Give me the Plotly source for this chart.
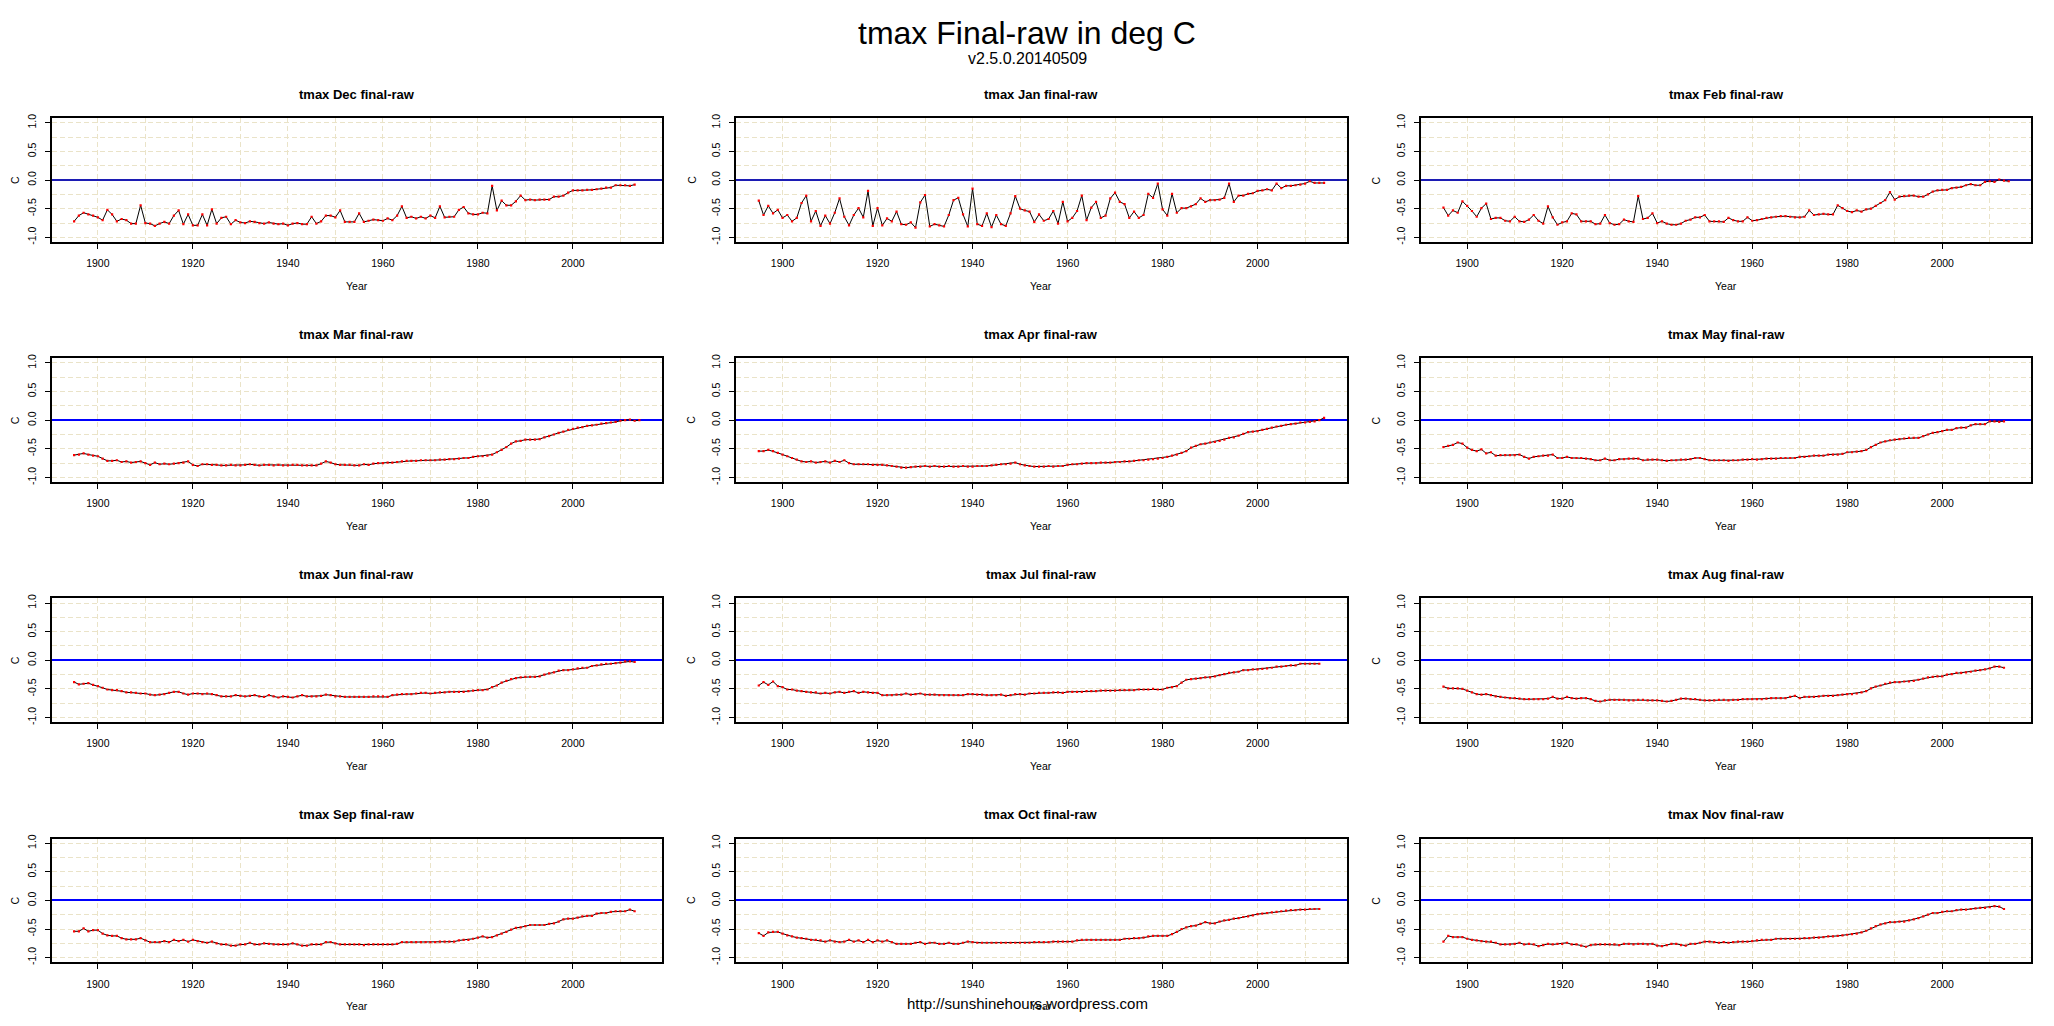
import plotly.graph_objects as go
from plotly.subplots import make_subplots

START_YEAR = 1895

dec = [-0.72, -0.62, -0.57, -0.60, -0.62,
       -0.65, -0.70, -0.52, -0.60, -0.72, -0.68, -0.70, -0.76, -0.76, -0.44,
       -0.75, -0.76, -0.80, -0.76, -0.73, -0.76, -0.62, -0.53, -0.77, -0.60,
       -0.79, -0.79, -0.60, -0.79, -0.51, -0.76, -0.66, -0.64, -0.77, -0.70,
       -0.74, -0.75, -0.72, -0.73, -0.75, -0.76, -0.74, -0.76, -0.77, -0.76,
       -0.79, -0.76, -0.75, -0.77, -0.77, -0.64, -0.76, -0.72, -0.62, -0.62,
       -0.65, -0.53, -0.73, -0.73, -0.73, -0.58, -0.73, -0.71, -0.69, -0.70,
       -0.71, -0.67, -0.70, -0.62, -0.46, -0.66, -0.64, -0.67, -0.64, -0.67,
       -0.62, -0.66, -0.46, -0.65, -0.64, -0.64, -0.52, -0.47, -0.58, -0.60,
       -0.60, -0.57, -0.58, -0.10, -0.53, -0.36, -0.44, -0.44, -0.37, -0.27,
       -0.35, -0.34, -0.35, -0.34, -0.34, -0.34, -0.29, -0.29, -0.27, -0.22,
       -0.18, -0.18, -0.18, -0.17, -0.17, -0.16, -0.15, -0.13, -0.13, -0.09,
       -0.09, -0.09, -0.10, -0.08]

jan = [-0.36, -0.61, -0.45, -0.58, -0.52,
       -0.66, -0.61, -0.72, -0.66, -0.40, -0.27, -0.72, -0.54, -0.80, -0.62,
       -0.76, -0.57, -0.32, -0.64, -0.79, -0.61, -0.49, -0.65, -0.19, -0.80,
       -0.49, -0.79, -0.67, -0.72, -0.55, -0.77, -0.78, -0.74, -0.83, -0.39,
       -0.26, -0.81, -0.77, -0.79, -0.81, -0.61, -0.35, -0.31, -0.60, -0.81,
       -0.15, -0.77, -0.80, -0.58, -0.82, -0.61, -0.77, -0.80, -0.58, -0.28,
       -0.50, -0.53, -0.55, -0.73, -0.60, -0.71, -0.68, -0.54, -0.76, -0.38,
       -0.72, -0.66, -0.54, -0.27, -0.70, -0.48, -0.38, -0.66, -0.62, -0.32,
       -0.22, -0.38, -0.42, -0.66, -0.55, -0.66, -0.61, -0.24, -0.31, -0.06,
       -0.51, -0.62, -0.24, -0.57, -0.49, -0.49, -0.46, -0.42, -0.32, -0.38,
       -0.35, -0.35, -0.34, -0.31, -0.06, -0.38, -0.27, -0.27, -0.24, -0.23,
       -0.19, -0.18, -0.16, -0.18, -0.06, -0.14, -0.10, -0.10, -0.09, -0.08,
       -0.06, -0.02, -0.05, -0.05, -0.05]

feb = [-0.48, -0.62, -0.53, -0.57, -0.37,
       -0.45, -0.54, -0.64, -0.49, -0.41, -0.68, -0.66, -0.66, -0.71, -0.72,
       -0.64, -0.72, -0.73, -0.69, -0.61, -0.71, -0.76, -0.46, -0.65, -0.78,
       -0.74, -0.72, -0.58, -0.60, -0.72, -0.72, -0.72, -0.77, -0.76, -0.61,
       -0.75, -0.78, -0.77, -0.69, -0.72, -0.73, -0.28, -0.68, -0.66, -0.58,
       -0.75, -0.72, -0.76, -0.78, -0.78, -0.76, -0.71, -0.69, -0.65, -0.65,
       -0.61, -0.72, -0.72, -0.72, -0.73, -0.66, -0.70, -0.72, -0.72, -0.65,
       -0.71, -0.70, -0.68, -0.66, -0.65, -0.64, -0.63, -0.63, -0.64, -0.65,
       -0.65, -0.64, -0.53, -0.61, -0.60, -0.59, -0.60, -0.60, -0.44, -0.49,
       -0.54, -0.56, -0.53, -0.55, -0.51, -0.50, -0.45, -0.40, -0.35, -0.21,
       -0.34, -0.29, -0.28, -0.27, -0.27, -0.29, -0.29, -0.25, -0.20, -0.18,
       -0.17, -0.17, -0.14, -0.13, -0.12, -0.09, -0.07, -0.09, -0.09, -0.03,
       -0.02, -0.03, 0.01, -0.01, -0.02]

mar = [-0.61, -0.60, -0.58, -0.60, -0.62,
       -0.63, -0.67, -0.71, -0.71, -0.70, -0.73, -0.72, -0.74, -0.73, -0.72,
       -0.75, -0.78, -0.74, -0.77, -0.76, -0.77, -0.76, -0.75, -0.74, -0.72,
       -0.78, -0.80, -0.77, -0.77, -0.78, -0.78, -0.79, -0.79, -0.78, -0.79,
       -0.79, -0.78, -0.77, -0.78, -0.79, -0.78, -0.78, -0.79, -0.78, -0.79,
       -0.79, -0.78, -0.78, -0.79, -0.79, -0.79, -0.79, -0.76, -0.72, -0.74,
       -0.77, -0.78, -0.78, -0.78, -0.79, -0.79, -0.77, -0.78, -0.76, -0.75,
       -0.75, -0.74, -0.74, -0.73, -0.72, -0.71, -0.71, -0.71, -0.70, -0.70,
       -0.70, -0.70, -0.69, -0.69, -0.68, -0.68, -0.67, -0.66, -0.66, -0.64,
       -0.63, -0.63, -0.62, -0.60, -0.56, -0.52, -0.47, -0.41, -0.37, -0.36,
       -0.34, -0.34, -0.34, -0.33, -0.30, -0.28, -0.25, -0.22, -0.20, -0.17,
       -0.15, -0.13, -0.12, -0.10, -0.09, -0.08, -0.06, -0.05, -0.04, -0.03,
       -0.01, 0.00, 0.01, -0.01, 0.00]

apr = [-0.54, -0.54, -0.52, -0.54, -0.57,
       -0.60, -0.63, -0.66, -0.69, -0.72, -0.73, -0.72, -0.74, -0.73, -0.72,
       -0.74, -0.71, -0.73, -0.70, -0.75, -0.77, -0.77, -0.77, -0.77, -0.78,
       -0.78, -0.78, -0.79, -0.80, -0.81, -0.83, -0.83, -0.82, -0.81, -0.81,
       -0.80, -0.81, -0.80, -0.81, -0.81, -0.80, -0.81, -0.81, -0.80, -0.81,
       -0.81, -0.80, -0.80, -0.80, -0.79, -0.78, -0.77, -0.77, -0.76, -0.74,
       -0.77, -0.79, -0.80, -0.81, -0.81, -0.81, -0.80, -0.81, -0.80, -0.80,
       -0.78, -0.77, -0.77, -0.76, -0.75, -0.75, -0.75, -0.74, -0.74, -0.74,
       -0.73, -0.73, -0.72, -0.72, -0.71, -0.70, -0.70, -0.69, -0.68, -0.67,
       -0.66, -0.64, -0.62, -0.60, -0.57, -0.54, -0.48, -0.45, -0.42, -0.41,
       -0.39, -0.38, -0.36, -0.34, -0.31, -0.30, -0.27, -0.24, -0.21, -0.20,
       -0.19, -0.17, -0.15, -0.13, -0.11, -0.10, -0.08, -0.07, -0.06, -0.04,
       -0.04, -0.03, -0.02, 0.00, 0.04]

may = [-0.47, -0.45, -0.43, -0.39, -0.41,
       -0.48, -0.52, -0.54, -0.51, -0.58, -0.56, -0.62, -0.61, -0.61, -0.61,
       -0.61, -0.60, -0.64, -0.67, -0.64, -0.63, -0.62, -0.62, -0.60, -0.66,
       -0.66, -0.64, -0.66, -0.66, -0.66, -0.67, -0.68, -0.70, -0.70, -0.67,
       -0.70, -0.70, -0.68, -0.68, -0.67, -0.67, -0.67, -0.70, -0.69, -0.69,
       -0.69, -0.70, -0.71, -0.70, -0.70, -0.69, -0.69, -0.68, -0.66, -0.66,
       -0.68, -0.70, -0.70, -0.70, -0.70, -0.71, -0.70, -0.70, -0.69, -0.69,
       -0.68, -0.69, -0.68, -0.67, -0.67, -0.67, -0.66, -0.66, -0.66, -0.66,
       -0.64, -0.64, -0.63, -0.62, -0.62, -0.62, -0.60, -0.60, -0.60, -0.59,
       -0.56, -0.56, -0.55, -0.54, -0.52, -0.47, -0.43, -0.39, -0.37, -0.35,
       -0.34, -0.33, -0.32, -0.31, -0.31, -0.31, -0.28, -0.25, -0.22, -0.21,
       -0.19, -0.17, -0.17, -0.14, -0.13, -0.13, -0.09, -0.07, -0.07, -0.07,
       -0.02, -0.02, -0.03, -0.02]

jun = [-0.38, -0.42, -0.41, -0.40, -0.43,
       -0.45, -0.48, -0.51, -0.52, -0.52, -0.54, -0.56, -0.56, -0.57, -0.58,
       -0.58, -0.60, -0.61, -0.60, -0.59, -0.57, -0.55, -0.55, -0.58, -0.60,
       -0.58, -0.58, -0.59, -0.58, -0.59, -0.61, -0.63, -0.63, -0.63, -0.61,
       -0.62, -0.63, -0.62, -0.61, -0.63, -0.64, -0.61, -0.63, -0.65, -0.63,
       -0.64, -0.65, -0.63, -0.61, -0.63, -0.63, -0.63, -0.62, -0.60, -0.61,
       -0.63, -0.63, -0.64, -0.64, -0.64, -0.64, -0.64, -0.64, -0.63, -0.63,
       -0.63, -0.64, -0.61, -0.60, -0.59, -0.59, -0.59, -0.58, -0.57, -0.57,
       -0.58, -0.57, -0.56, -0.56, -0.55, -0.55, -0.55, -0.55, -0.54, -0.53,
       -0.52, -0.52, -0.51, -0.47, -0.44, -0.39, -0.36, -0.33, -0.31, -0.30,
       -0.29, -0.29, -0.29, -0.28, -0.25, -0.23, -0.21, -0.18, -0.17, -0.17,
       -0.16, -0.14, -0.13, -0.13, -0.10, -0.09, -0.07, -0.06, -0.06, -0.05,
       -0.04, -0.02, -0.02, -0.03]

jul = [-0.44, -0.38, -0.43, -0.37, -0.45,
       -0.47, -0.51, -0.51, -0.53, -0.54, -0.55, -0.56, -0.56, -0.58, -0.57,
       -0.58, -0.56, -0.55, -0.57, -0.55, -0.54, -0.57, -0.55, -0.56, -0.57,
       -0.57, -0.61, -0.61, -0.61, -0.60, -0.60, -0.58, -0.60, -0.59, -0.58,
       -0.60, -0.60, -0.60, -0.61, -0.61, -0.61, -0.61, -0.61, -0.61, -0.59,
       -0.59, -0.60, -0.60, -0.61, -0.61, -0.61, -0.60, -0.62, -0.61, -0.59,
       -0.59, -0.60, -0.58, -0.58, -0.57, -0.57, -0.57, -0.56, -0.56, -0.57,
       -0.55, -0.55, -0.55, -0.55, -0.54, -0.54, -0.54, -0.53, -0.53, -0.53,
       -0.53, -0.52, -0.52, -0.52, -0.52, -0.51, -0.51, -0.51, -0.50, -0.51,
       -0.51, -0.48, -0.47, -0.45, -0.39, -0.34, -0.33, -0.32, -0.31, -0.30,
       -0.30, -0.28, -0.26, -0.24, -0.22, -0.21, -0.20, -0.17, -0.17, -0.16,
       -0.16, -0.15, -0.14, -0.13, -0.11, -0.11, -0.10, -0.09, -0.09, -0.06,
       -0.06, -0.06, -0.06, -0.06]

aug = [-0.46, -0.49, -0.49, -0.49, -0.50,
       -0.53, -0.56, -0.59, -0.60, -0.59, -0.61, -0.63, -0.64, -0.65, -0.66,
       -0.66, -0.67, -0.68, -0.68, -0.68, -0.68, -0.68, -0.67, -0.64, -0.67,
       -0.67, -0.64, -0.66, -0.67, -0.66, -0.66, -0.68, -0.71, -0.72, -0.70,
       -0.69, -0.69, -0.69, -0.69, -0.70, -0.70, -0.69, -0.69, -0.70, -0.70,
       -0.70, -0.71, -0.72, -0.71, -0.69, -0.67, -0.67, -0.68, -0.68, -0.69,
       -0.70, -0.70, -0.70, -0.69, -0.69, -0.70, -0.69, -0.69, -0.68, -0.68,
       -0.68, -0.68, -0.68, -0.67, -0.66, -0.66, -0.66, -0.66, -0.64, -0.62,
       -0.66, -0.64, -0.64, -0.64, -0.63, -0.62, -0.62, -0.62, -0.61, -0.60,
       -0.59, -0.59, -0.58, -0.56, -0.54, -0.49, -0.46, -0.44, -0.41, -0.39,
       -0.38, -0.38, -0.37, -0.37, -0.36, -0.34, -0.32, -0.30, -0.29, -0.28,
       -0.28, -0.25, -0.24, -0.22, -0.22, -0.21, -0.20, -0.18, -0.17, -0.16,
       -0.14, -0.11, -0.11, -0.13]

sep = [-0.54, -0.54, -0.49, -0.54, -0.52,
       -0.52, -0.58, -0.61, -0.62, -0.62, -0.66, -0.68, -0.68, -0.68, -0.66,
       -0.70, -0.73, -0.73, -0.73, -0.71, -0.73, -0.69, -0.71, -0.69, -0.72,
       -0.69, -0.71, -0.73, -0.74, -0.72, -0.75, -0.77, -0.77, -0.79, -0.79,
       -0.77, -0.77, -0.74, -0.77, -0.77, -0.75, -0.76, -0.77, -0.77, -0.77,
       -0.77, -0.75, -0.77, -0.79, -0.79, -0.77, -0.77, -0.77, -0.73, -0.73,
       -0.75, -0.77, -0.77, -0.77, -0.77, -0.77, -0.78, -0.77, -0.77, -0.77,
       -0.77, -0.77, -0.77, -0.76, -0.73, -0.73, -0.73, -0.73, -0.73, -0.73,
       -0.73, -0.73, -0.72, -0.72, -0.72, -0.72, -0.70, -0.69, -0.69, -0.67,
       -0.65, -0.63, -0.65, -0.64, -0.61, -0.58, -0.55, -0.51, -0.48, -0.47,
       -0.45, -0.43, -0.43, -0.43, -0.43, -0.41, -0.40, -0.37, -0.33, -0.32,
       -0.32, -0.30, -0.28, -0.27, -0.27, -0.23, -0.22, -0.22, -0.20, -0.19,
       -0.19, -0.19, -0.16, -0.19]

oct_ = [-0.57, -0.62, -0.56, -0.55, -0.55,
        -0.58, -0.61, -0.63, -0.65, -0.66, -0.67, -0.69, -0.69, -0.70, -0.72,
        -0.70, -0.72, -0.73, -0.72, -0.69, -0.72, -0.70, -0.73, -0.69, -0.73,
        -0.70, -0.72, -0.70, -0.73, -0.76, -0.76, -0.76, -0.76, -0.74, -0.73,
        -0.76, -0.74, -0.74, -0.76, -0.76, -0.74, -0.76, -0.76, -0.74, -0.72,
        -0.73, -0.74, -0.74, -0.74, -0.74, -0.74, -0.74, -0.74, -0.74, -0.74,
        -0.74, -0.74, -0.74, -0.73, -0.73, -0.73, -0.73, -0.72, -0.72, -0.72,
        -0.72, -0.72, -0.70, -0.69, -0.69, -0.69, -0.69, -0.69, -0.69, -0.69,
        -0.69, -0.69, -0.67, -0.67, -0.66, -0.66, -0.65, -0.63, -0.62, -0.62,
        -0.62, -0.62, -0.59, -0.55, -0.50, -0.47, -0.45, -0.44, -0.41, -0.38,
        -0.40, -0.40, -0.37, -0.35, -0.34, -0.32, -0.31, -0.29, -0.28, -0.26,
        -0.24, -0.23, -0.22, -0.21, -0.20, -0.19, -0.18, -0.17, -0.17, -0.16,
        -0.16, -0.15, -0.15, -0.15]

nov = [-0.72, -0.62, -0.64, -0.64, -0.64,
       -0.67, -0.69, -0.70, -0.71, -0.72, -0.72, -0.74, -0.77, -0.77, -0.77,
       -0.76, -0.74, -0.77, -0.76, -0.77, -0.80, -0.78, -0.76, -0.77, -0.76,
       -0.76, -0.74, -0.77, -0.77, -0.79, -0.81, -0.78, -0.77, -0.77, -0.77,
       -0.77, -0.77, -0.78, -0.76, -0.76, -0.77, -0.76, -0.76, -0.77, -0.76,
       -0.79, -0.80, -0.78, -0.76, -0.76, -0.78, -0.79, -0.76, -0.76, -0.74,
       -0.72, -0.72, -0.73, -0.74, -0.73, -0.74, -0.73, -0.72, -0.72, -0.72,
       -0.71, -0.70, -0.69, -0.69, -0.69, -0.67, -0.67, -0.67, -0.67, -0.67,
       -0.67, -0.66, -0.66, -0.65, -0.65, -0.64, -0.63, -0.63, -0.62, -0.61,
       -0.60, -0.59, -0.58, -0.56, -0.53, -0.49, -0.45, -0.42, -0.40, -0.38,
       -0.38, -0.37, -0.37, -0.35, -0.33, -0.31, -0.28, -0.25, -0.22, -0.22,
       -0.20, -0.19, -0.19, -0.17, -0.16, -0.16, -0.15, -0.14, -0.13, -0.13,
       -0.12, -0.10, -0.11, -0.15]

months = ["Dec", "Jan", "Feb", "Mar", "Apr", "May",
          "Jun", "Jul", "Aug", "Sep", "Oct", "Nov"]
series = [dec, jan, feb, mar, apr, may, jun, jul, aug, sep, oct_, nov]

x_ticks = [1900, 1920, 1940, 1960, 1980, 2000]
y_ticks = [-1.0, -0.5, 0.0, 0.5, 1.0]
y_ticklabels = ["-1.0", "-0.5", "0.0", "0.5", "1.0"]

main_title = "tmax Final-raw in deg C"
sub_title = "v2.5.0.20140509"
footer = "http://sunshinehours.wordpress.com"

W, H = 2054, 1026
OFF = 8  # page body margin offset
FONT = "Liberation Sans, Arial, sans-serif"
GRID = "#EAE3C8"


def px_x(v):
    return (v - OFF) / W


def px_y(v):
    return 1 - (v - OFF) / H


fig = make_subplots(rows=4, cols=3)
annotations = []

for i, (m, vals) in enumerate(zip(months, series)):
    r, c = divmod(i, 3)
    years = list(range(START_YEAR, START_YEAR + len(vals)))
    fig.add_trace(go.Scatter(
        x=years, y=vals, mode="lines",
        line=dict(color="black", width=1),
        showlegend=False, hoverinfo="skip"), row=r + 1, col=c + 1)
    fig.add_trace(go.Scatter(
        x=years, y=vals, mode="markers",
        marker=dict(color="#FF0000", size=2.2, symbol="square", line=dict(width=0)),
        showlegend=False, hoverinfo="skip"), row=r + 1, col=c + 1)

    left = 51.5 + 684.67 * c
    right = 662 + 684.67 * c
    top = 115 + 241.75 * r
    bottom = top + 124.5
    xd = [px_x(left), px_x(right)]
    yd = [px_y(bottom), px_y(top)]
    idx = i + 1
    xa = "xaxis" if idx == 1 else f"xaxis{idx}"
    ya = "yaxis" if idx == 1 else f"yaxis{idx}"
    zero_col = "#1C1CB4" if r == 0 else "#0000FF"
    fig.layout[xa].update(
        domain=xd, range=[1890.24, 2018.76], tickmode="array", tickvals=x_ticks,
        ticks="outside", ticklen=5, tickcolor="black", tickwidth=1,
        showline=True, mirror=True, linecolor="black", linewidth=1.5,
        showgrid=True, gridcolor=GRID, griddash="5px,3px", gridwidth=1,
        minor=dict(tick0=1890, dtick=10, showgrid=True, gridcolor=GRID,
                   griddash="5px,3px", gridwidth=1, ticks=""),
        zeroline=False, ticklabelstandoff=6,
        tickfont=dict(family=FONT, size=10.5, color="black"))
    fig.layout[ya].update(
        domain=yd, range=[-1.08, 1.08], tickmode="array", tickvals=y_ticks,
        ticktext=y_ticklabels, tickangle=-90,
        ticks="outside", ticklen=5, tickcolor="black", tickwidth=1,
        showline=True, mirror=True, linecolor="black", linewidth=1.5,
        showgrid=True, gridcolor=GRID, griddash="5px,3px", gridwidth=1,
        minor=dict(tick0=0, dtick=0.25, showgrid=True, gridcolor=GRID,
                   griddash="5px,3px", gridwidth=1, ticks=""),
        zeroline=True, zerolinecolor=zero_col, zerolinewidth=1.5,
        ticklabelstandoff=5,
        tickfont=dict(family=FONT, size=10.5, color="black"))

    cx = px_x((left + right) / 2)
    annotations.append(dict(
        text=f"<b>tmax {m} final-raw</b>", x=cx, y=px_y(top - 24),
        xref="paper", yref="paper", showarrow=False, xanchor="center", yanchor="middle",
        font=dict(family=FONT, size=13, color="black")))
    annotations.append(dict(
        text="Year", x=cx, y=px_y(bottom + 44),
        xref="paper", yref="paper", showarrow=False, xanchor="center", yanchor="middle",
        font=dict(family=FONT, size=10.5, color="black")))
    c_x = max(left - 44.5, OFF + 7)
    annotations.append(dict(
        text="C", x=px_x(c_x), y=px_y((top + bottom) / 2), textangle=-90,
        xref="paper", yref="paper", showarrow=False, xanchor="center", yanchor="middle",
        font=dict(family=FONT, size=10.5, color="black")))

annotations.append(dict(
    text=main_title, x=px_x(1027), y=px_y(29), xref="paper", yref="paper", showarrow=False,
    xanchor="center", yanchor="middle", font=dict(family=FONT, size=32, color="black")))
annotations.append(dict(
    text=sub_title, x=px_x(1027), y=px_y(55), xref="paper", yref="paper", showarrow=False,
    xanchor="center", yanchor="middle", font=dict(family=FONT, size=16, color="black")))
annotations.append(dict(
    text=footer, x=px_x(1027), y=px_y(1006), xref="paper", yref="paper", showarrow=False,
    xanchor="center", yanchor="middle", font=dict(family=FONT, size=15, color="black")))

fig.update_layout(
    width=W, height=H, margin=dict(l=0, r=0, t=0, b=0),
    paper_bgcolor="white", plot_bgcolor="white",
    annotations=annotations, showlegend=False)

fig.write_html("out.html")
